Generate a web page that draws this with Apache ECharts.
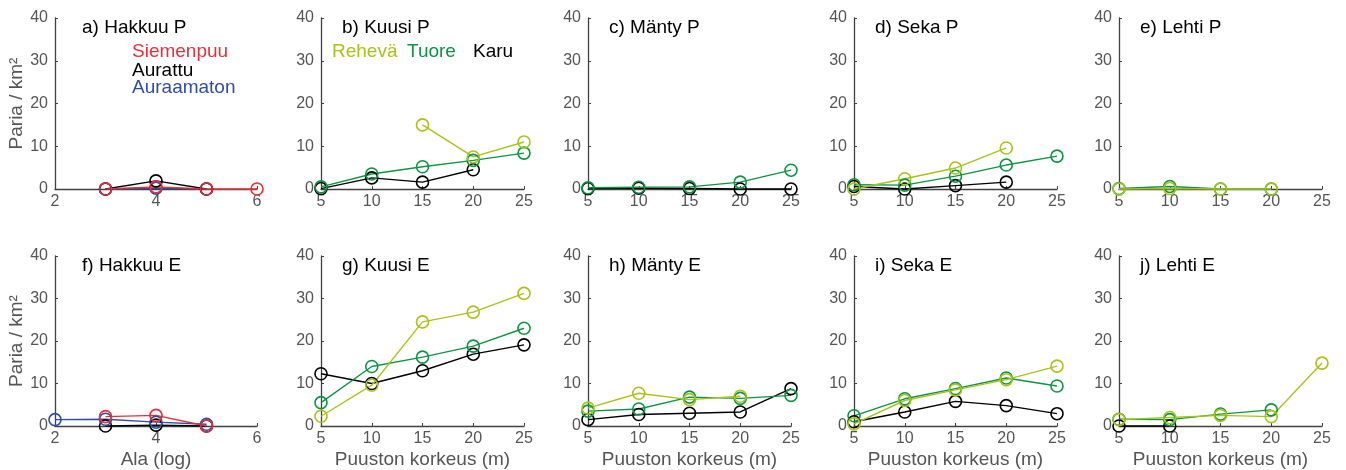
<!DOCTYPE html>
<html>
<head>
<meta charset="utf-8">
<script src="https://cdn.jsdelivr.net/npm/echarts@6/dist/echarts.min.js"></script>
<style>html,body{margin:0;padding:0;background:#fff}#c{width:1346px;height:470px}</style>
</head>
<body>
<div id="c"></div>
<script>
// ---------- data ----------
const hakkuuAla = [2, 3, 4, 5, 6];
const heights = [5, 10, 15, 20, 25];

// Hakkuu (x = Ala log)
const siemenpuuP  = [null, 0, 0.5, 0, 0];
const aurattuP    = [null, 0, 1.9, 0, null];
const auraamatonP = [null, 0, 0.2, 0, null];
const siemenpuuE  = [null, 2.2, 2.5, 0, null];
const aurattuE    = [null, 0, 0.2, 0, null];
const auraamatonE = [1.5, 1.6, 0.9, 0.4, null];

// Kuusi
const kuusiP_rehevä = [null, null, 15, 7.5, 11];
const kuusiP_tuore  = [0.5, 3.5, 5.2, 6.7, 8.4];
const kuusiP_karu   = [0.1, 2.6, 1.6, 4.5, null];
const kuusiE_rehevä = [2.3, 9.6, 24.5, 26.8, 31.2];
const kuusiE_tuore  = [5.5, 14.0, 16.2, 18.8, 23.0];
const kuusiE_karu   = [12.3, 10.0, 13.0, 16.9, 19.1];

// Mänty
const mantyP_rehevä = [null, null, null, null, null];
const mantyP_tuore  = [0.3, 0.4, 0.5, 1.6, 4.4];
const mantyP_karu   = [0.1, 0.2, 0.1, 0, 0];
const mantyE_rehevä = [4.2, 7.7, 6.2, 7.0, null];
const mantyE_tuore  = [3.5, 4.0, 6.8, 6.5, 7.2];
const mantyE_karu   = [1.5, 2.7, 3.0, 3.3, 8.8];

// Seka
const sekaP_rehevä = [0, 2.4, 4.9, 9.6, null];
const sekaP_tuore  = [1.0, 0.9, 3.0, 5.6, 7.7];
const sekaP_karu   = [0.6, 0, 0.8, 1.6, null];
const sekaE_rehevä = [0.5, 6.0, 8.5, 10.9, 14.1];
const sekaE_tuore  = [2.4, 6.4, 8.8, 11.3, 9.4];
const sekaE_karu   = [1.0, 3.3, 5.8, 4.8, 2.9];

// Lehti
const lehtiP_rehevä = [0, 0.1, 0, 0, null];
const lehtiP_tuore  = [0.1, 0.6, 0, 0, null];
const lehtiP_karu   = [null, null, null, null, null];
const lehtiE_rehevä = [1.5, 2.0, 2.5, 2.2, 14.8];
const lehtiE_tuore  = [1.6, 1.5, 2.8, 3.8, null];
const lehtiE_karu   = [0, 0, null, null, null];

const yTicks = [0, 10, 20, 30, 40];
const panelTitles = ['a) Hakkuu P','b) Kuusi P','c) Mänty P','d) Seka P','e) Lehti P',
                     'f) Hakkuu E','g) Kuusi E','h) Mänty E','i) Seka E','j) Lehti E'];

// ---------- styles ----------
const C_RED = '#e5303b', C_BLUE = '#2f4ea3', C_BLACK = '#000000';
const C_REH = '#a6c41a', C_TUO = '#0e9444', C_KARU = '#000000';
const FONT = 'Liberation Sans, Arial, Helvetica, sans-serif';
const AX = '#404040', LAB = '#555555';

const lefts = [55, 321, 588, 854, 1119];
const tops = [18, 256];
const W = 203, H = 171;

const grids = [], xAxes = [], yAxes = [], series = [], graphics = [];

const panels = [
  {x: hakkuuAla, lines: [[auraamatonP, C_BLUE], [aurattuP, C_BLACK], [siemenpuuP, C_RED]]},
  {x: heights, lines: [[kuusiP_karu, C_KARU], [kuusiP_tuore, C_TUO], [kuusiP_rehevä, C_REH]]},
  {x: heights, lines: [[mantyP_karu, C_KARU], [mantyP_tuore, C_TUO], [mantyP_rehevä, C_REH]]},
  {x: heights, lines: [[sekaP_karu, C_KARU], [sekaP_tuore, C_TUO], [sekaP_rehevä, C_REH]]},
  {x: heights, lines: [[lehtiP_karu, C_KARU], [lehtiP_tuore, C_TUO], [lehtiP_rehevä, C_REH]]},
  {x: hakkuuAla, lines: [[aurattuE, C_BLACK], [auraamatonE, C_BLUE], [siemenpuuE, C_RED]]},
  {x: heights, lines: [[kuusiE_karu, C_KARU], [kuusiE_tuore, C_TUO], [kuusiE_rehevä, C_REH]]},
  {x: heights, lines: [[mantyE_karu, C_KARU], [mantyE_tuore, C_TUO], [mantyE_rehevä, C_REH]]},
  {x: heights, lines: [[sekaE_karu, C_KARU], [sekaE_tuore, C_TUO], [sekaE_rehevä, C_REH]]},
  {x: heights, lines: [[lehtiE_karu, C_KARU], [lehtiE_tuore, C_TUO], [lehtiE_rehevä, C_REH]]}
];

panels.forEach((p, i) => {
  const row = Math.floor(i / 5), col = i % 5;
  const left = lefts[col], top = tops[row];
  const h = row === 0 ? H : 172;
  const w = col === 0 ? 202 : W;
  grids.push({left: left, top: top, width: w, height: h});
  const isLog = col === 0;
  xAxes.push({
    type: 'value', gridIndex: i,
    min: isLog ? 2 : 5, max: isLog ? 6 : 25, interval: isLog ? 2 : 5,
    axisLine: {show: true, onZero: false, lineStyle: {color: AX, width: 1.3}},
    axisTick: {show: true, inside: true, length: 3, lineStyle: {color: AX}},
    axisLabel: {color: LAB, fontSize: 16, fontFamily: FONT, margin: 5},
    splitLine: {show: false},
    name: row === 1 ? (isLog ? 'Ala (log)' : 'Puuston korkeus (m)') : '',
    nameLocation: 'middle', nameGap: 24,
    nameTextStyle: {color: LAB, fontSize: 19, fontFamily: FONT}
  });
  yAxes.push({
    type: 'value', gridIndex: i, min: yTicks[0], max: yTicks[yTicks.length - 1], interval: 10,
    axisLine: {show: true, lineStyle: {color: AX, width: 1.3}},
    axisTick: {show: true, inside: true, length: 3, lineStyle: {color: AX}},
    axisLabel: {color: LAB, fontSize: 16, fontFamily: FONT, margin: 7},
    splitLine: {show: false},
    name: col === 0 ? 'Paria / km²' : '',
    nameLocation: 'middle', nameGap: 28, nameRotate: 90,
    nameTextStyle: {color: LAB, fontSize: 19, fontFamily: FONT}
  });
  p.lines.forEach(([vals, color]) => {
    const pts = [];
    vals.forEach((v, k) => { if (v !== null) pts.push([p.x[k], v]); });
    if (!pts.length) return;
    series.push({
      type: 'line', xAxisIndex: i, yAxisIndex: i, data: pts,
      symbol: 'circle', symbolSize: 12, showSymbol: true,
      lineStyle: {color: color, width: 1.4},
      itemStyle: {color: 'rgba(0,0,0,0)', borderColor: color, borderWidth: 1.6},
      animation: false, silent: true, clip: false
    });
  });
  graphics.push({
    type: 'text', left: left + (col === 0 ? 27 : 21), top: top,
    style: {text: panelTitles[i], font: '19px ' + FONT, fill: '#000'}
  });
});

// in-panel legends (text only)
const legA = [['Siemenpuu', C_RED, 42], ['Aurattu', C_BLACK, 61], ['Auraamaton', C_BLUE, 78]];
legA.forEach(([t, c, y]) => graphics.push({type: 'text', left: 132, top: y, style: {text: t, font: '19px ' + FONT, fill: c}}));
const legB = [['Rehevä', C_REH, 332], ['Tuore', C_TUO, 407], ['Karu', C_KARU, 473]];
legB.forEach(([t, c, x]) => graphics.push({type: 'text', left: x, top: 42, style: {text: t, font: '19px ' + FONT, fill: c}}));

const chart = echarts.init(document.getElementById('c'), null, {renderer: 'canvas'});
chart.setOption({
  animation: false,
  backgroundColor: '#fff',
  textStyle: {fontFamily: FONT},
  grid: grids, xAxis: xAxes, yAxis: yAxes, series: series,
  graphic: graphics
});
</script>
</body>
</html>
